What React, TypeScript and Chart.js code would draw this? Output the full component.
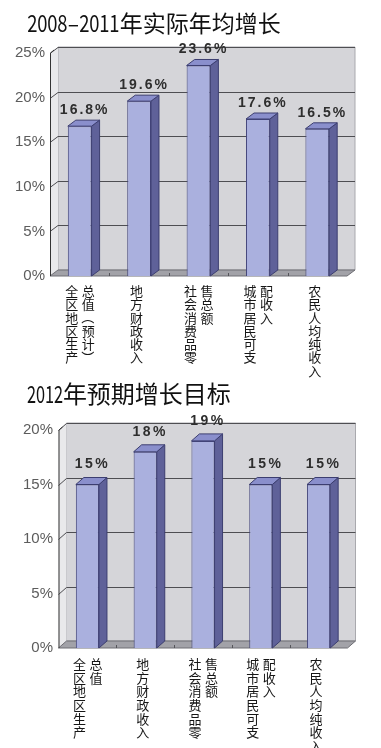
import React, { useEffect, useRef } from 'react';
import { Chart, registerables } from 'chart.js';

Chart.register(...registerables);

// ---------- data ----------
const title1 = '2008—2011年实际年均增长';
const title2 = '2012年预期增长目标';

// each category label is written vertically, in one or two columns
const categoryColumns: string[][] = [
  ['全区地区生产', '总值（预计）'],
  ['地方财政收入'],
  ['社会消费品零', '售总额'],
  ['城市居民可支', '配收入'],
  ['农民人均纯收入'],
];
const categoryColumns2: string[][] = [
  ['全区地区生产', '总值'],
  ['地方财政收入'],
  ['社会消费品零', '售总额'],
  ['城市居民可支', '配收入'],
  ['农民人均纯收入'],
];

const growth2008to2011 = [16.8, 19.6, 23.6, 17.6, 16.5];
const target2012 = [15, 18, 19, 15, 15];

const yMax1 = 25;
const yMax2 = 20;
const yStep = 5;
const decimals1 = 1;
const decimals2 = 0;

type Geo = {
  top0: number; // position of the block on the page
  height: number;
  left: number; // chart area left (front plane)
  right: number;
  top: number;
  bottom: number;
  dx: number;
  dy: number;
  labelGap: number;
  valueSpacing: string;
  tickPadding: number;
  charStart: number;
  charStep: number;
  titleTop: number;
  titleSize: number;
  digitScale: number;
};

function poly(ctx: CanvasRenderingContext2D, pts: number[][], fill?: string, stroke?: string) {
  ctx.beginPath();
  ctx.moveTo(pts[0][0], pts[0][1]);
  for (let i = 1; i < pts.length; i++) ctx.lineTo(pts[i][0], pts[i][1]);
  ctx.closePath();
  if (fill) {
    ctx.fillStyle = fill;
    ctx.fill();
  }
  if (stroke) {
    ctx.strokeStyle = stroke;
    ctx.lineWidth = 1;
    ctx.stroke();
  }
}

// render the title, with runs of Latin characters drawn narrower (like a Hei font)
function Title(props: { text: string; size: number; scale: number }) {
  const { text, size, scale } = props;
  const parts = text.match(/[0-9—\-]+|[^0-9—\-]+/g) || [];
  return (
    <>
      {parts.map((p, i) => {
        if (/^[0-9—\-]+$/.test(p)) {
          return (
            <span key={i} style={{ display: 'inline-block' }}>
              {Array.from(p).map((ch, k) => {
                const w = ch === '—' ? size * 0.52 : size * 0.55 * scale;
                return (
                  <span
                    key={k}
                    style={{
                      display: 'inline-block',
                      width: w,
                      overflow: 'visible',
                      textAlign: 'center',
                    }}
                  >
                    <span
                      style={{
                        display: 'inline-block',
                        transform: ch === '—' ? 'scaleX(0.5)' : `scaleX(${scale})`,
                        transformOrigin: 'center',
                        width: ch === '—' ? size : size * 0.55,
                        marginLeft: ch === '—' ? (w - size) / 2 : (w - size * 0.55) / 2,
                        marginRight: ch === '—' ? (w - size) / 2 : (w - size * 0.55) / 2,
                      }}
                    >
                      {ch}
                    </span>
                  </span>
                );
              })}
            </span>
          );
        }
        return <span key={i}>{p}</span>;
      })}
    </>
  );
}

function Bar3DChart(props: {
  title: string;
  values: number[];
  columns: string[][];
  yMax: number;
  decimals: number;
  geo: Geo;
}) {
  const ref = useRef<HTMLCanvasElement | null>(null);
  const { title, values, columns, yMax, decimals, geo } = props;

  useEffect(() => {
    const canvas = ref.current;
    if (!canvas) return;
    const W = 381;
    const dx = geo.dx;
    const dy = geo.dy;

    const plugin = {
      id: 'pseudo3d',
      beforeDatasetsDraw(chart: any) {
        const { ctx, chartArea: a, scales } = chart;
        const y = scales.y;
        ctx.save();
        // back wall
        poly(ctx, [
          [a.left + dx, a.top - dy],
          [a.right + dx, a.top - dy],
          [a.right + dx, a.bottom - dy],
          [a.left + dx, a.bottom - dy],
        ], '#d5d5d9', '#a9a9ae');
        // left wall
        poly(ctx, [
          [a.left, a.top],
          [a.left + dx, a.top - dy],
          [a.left + dx, a.bottom - dy],
          [a.left, a.bottom],
        ], '#e9e9eb');
        // grid lines
        ctx.strokeStyle = '#4e4e52';
        ctx.lineWidth = 1;
        for (let v = yStep; v <= yMax; v += yStep) {
          const py = Math.round(y.getPixelForValue(v)) + 0.5;
          ctx.beginPath();
          ctx.moveTo(a.left, py);
          ctx.lineTo(a.left + dx, py - dy);
          ctx.lineTo(a.right + dx, py - dy);
          ctx.stroke();
        }
        // floor
        poly(ctx, [
          [a.left, a.bottom],
          [a.left + dx, a.bottom - dy],
          [a.right + dx, a.bottom - dy],
          [a.right, a.bottom],
        ], '#a2a2a8', '#6e6e74');
        // floor ticks at category boundaries
        const n = values.length;
        const step = (a.right - a.left) / n;
        ctx.strokeStyle = '#55555a';
        for (let i = 1; i < n; i++) {
          const px = Math.round(a.left + step * i) + 0.5;
          ctx.beginPath();
          ctx.moveTo(px, a.bottom - 3);
          ctx.lineTo(px, a.bottom);
          ctx.stroke();
        }
        // front axis line
        ctx.strokeStyle = '#333';
        ctx.beginPath();
        ctx.moveTo(a.left + 0.5, a.bottom);
        ctx.lineTo(a.left + 0.5, a.top);
        ctx.lineTo(a.left + 4, a.top - 3);
        ctx.stroke();
        ctx.restore();
      },
      afterDatasetsDraw(chart: any) {
        const { ctx, chartArea: a } = chart;
        const meta = chart.getDatasetMeta(0);
        ctx.save();
        meta.data.forEach((bar: any, i: number) => {
          const p = bar.getProps(['x', 'y', 'base', 'width'], true);
          const l = p.x - p.width / 2;
          const r = p.x + p.width / 2;
          const top = p.y;
          const base = p.base;
          // side face
          poly(ctx, [
            [r, top],
            [r + dx, top - dy],
            [r + dx, base - dy],
            [r, base],
          ], '#5f6199', '#3c3e70');
          // top face
          poly(ctx, [
            [l, top],
            [l + dx, top - dy],
            [r + dx, top - dy],
            [r, top],
          ], '#8a8fcc', '#3c3e70');
          // value label
          ctx.font = 'bold 14px "Liberation Sans", Arial, sans-serif';
          (ctx as any).letterSpacing = geo.valueSpacing;
          ctx.fillStyle = '#2e2e2e';
          ctx.textAlign = 'center';
          ctx.textBaseline = 'middle';
          ctx.fillText(values[i].toFixed(decimals) + '%', p.x + dx / 2 + 1, top - dy - geo.labelGap);
          (ctx as any).letterSpacing = '0px';

          // category label, vertical columns
          const cols = columns[i];
          const offsets = cols.length === 1 ? [-2.5] : [-8, 8.5];
          ctx.font = '13px "Noto Sans CJK SC", sans-serif';
          ctx.fillStyle = '#161616';
          cols.forEach((col, ci) => {
            const cx = p.x + offsets[ci];
            Array.from(col).forEach((ch, k) => {
              const cy = a.bottom + geo.charStart + k * geo.charStep;
              if ('（）()'.includes(ch)) {
                ctx.save();
                ctx.translate(cx, cy);
                ctx.rotate(Math.PI / 2);
                ctx.fillText(ch, 0, 0);
                ctx.restore();
              } else {
                ctx.fillText(ch, cx, cy);
              }
            });
          });
        });
        ctx.restore();
      },
    };

    const chart = new Chart(canvas, {
      type: 'bar',
      data: {
        labels: columns.map((c) => c.join('')),
        datasets: [
          {
            data: values,
            backgroundColor: '#aab0de',
            borderColor: '#45477c',
            borderWidth: 1,
            barPercentage: 0.4,
            categoryPercentage: 1,
          },
        ],
      },
      options: {
        responsive: false,
        animation: false,
        events: [],
        layout: {
          padding: { top: geo.top, right: W - geo.right, bottom: 0, left: 0 },
        },
        plugins: {
          legend: { display: false },
          title: { display: false },
          tooltip: { enabled: false },
        },
        scales: {
          x: {
            display: true,
            grid: { display: false },
            border: { display: false },
            ticks: { display: false },
            afterFit: (s: any) => {
              s.height = geo.height - geo.bottom;
            },
          },
          y: {
            min: 0,
            max: yMax,
            grid: { display: false, drawTicks: false },
            border: { display: false },
            ticks: {
              stepSize: yStep,
              padding: geo.tickPadding,
              color: '#5c5c5c',
              font: { family: '"Liberation Sans", Arial, sans-serif', size: 15 },
              callback: (v: any) => v + '%',
            },
            afterFit: (s: any) => {
              s.width = geo.left;
            },
          },
        },
      },
      plugins: [plugin],
    });
    return () => chart.destroy();
  }, [values, columns, yMax, decimals, geo]);

  return (
    <div style={{ position: 'absolute', left: 0, top: geo.top0, width: 381, height: geo.height }}>
      <canvas ref={ref} width={381} height={geo.height} style={{ display: 'block' }} />
      <div
        style={{
          position: 'absolute',
          left: 27,
          top: geo.titleTop,
          fontFamily: '"Noto Sans CJK SC", sans-serif',
          fontSize: geo.titleSize,
          lineHeight: geo.titleSize + 4 + 'px',
          color: '#111',
          whiteSpace: 'nowrap',
        }}
      >
        <Title text={title} size={geo.titleSize} scale={geo.digitScale} />
      </div>
    </div>
  );
}

const geo1: Geo = {
  top0: 0,
  height: 382,
  left: 50,
  right: 347,
  top: 53,
  bottom: 276,
  dx: 8,
  dy: 6,
  labelGap: 10,
  valueSpacing: '2px',
  tickPadding: 5,
  charStart: 15,
  charStep: 13.3,
  titleTop: 9,
  titleSize: 23,
  digitScale: 0.8,
};
const geo2: Geo = {
  top0: 375,
  height: 373,
  left: 58.5,
  right: 347.5,
  top: 55,
  bottom: 273,
  dx: 8,
  dy: 7,
  labelGap: 13,
  valueSpacing: '2.5px',
  tickPadding: 5.5,
  charStart: 16,
  charStep: 13.7,
  titleTop: 4,
  titleSize: 24,
  digitScale: 0.68,
};

export default function App() {
  return (
    <div style={{ position: 'absolute', left: 0, top: 0, width: 381, height: 748, background: '#fff', overflow: 'hidden' }}>
      <Bar3DChart
        title={title1}
        values={growth2008to2011}
        columns={categoryColumns}
        yMax={yMax1}
        decimals={decimals1}
        geo={geo1}
      />
      <Bar3DChart
        title={title2}
        values={target2012}
        columns={categoryColumns2}
        yMax={yMax2}
        decimals={decimals2}
        geo={geo2}
      />
    </div>
  );
}
